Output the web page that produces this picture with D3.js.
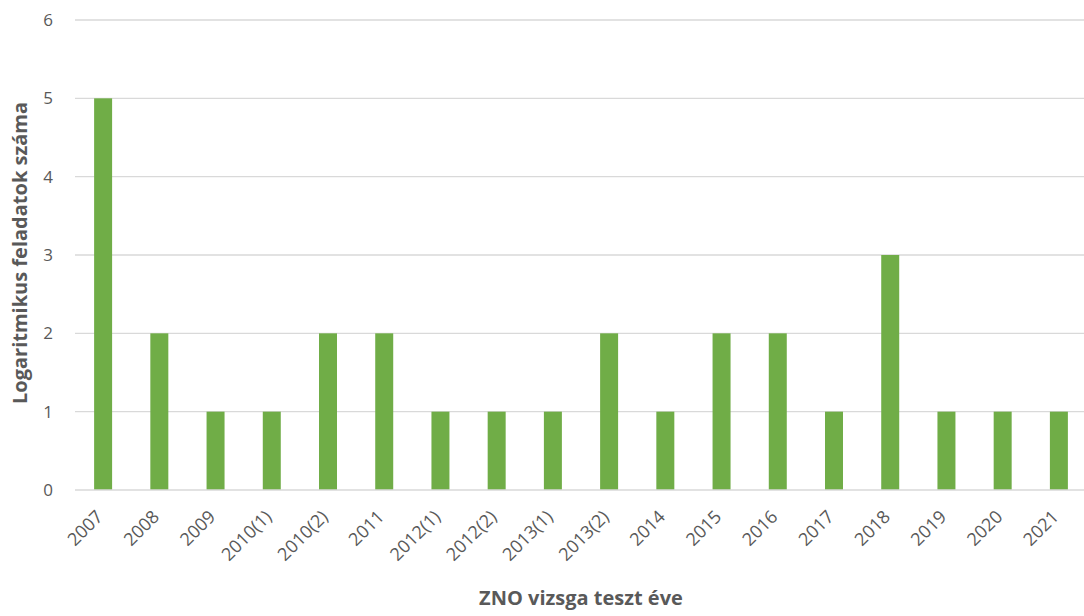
<!DOCTYPE html>
<html>
<head>
<meta charset="utf-8">
<script src="https://cdn.jsdelivr.net/npm/d3@7"></script>
<style>
  html, body { margin: 0; padding: 0; background: #fff; }
  svg { display: block; font-family: "Open Sans", Lato, sans-serif; }
</style>
</head>
<body>
<svg id="chart" width="1084" height="616"></svg>
<script>
// Number of logarithmic problems per ZNO exam year
const years = ["2007", "2008", "2009", "2010(1)", "2010(2)", "2011", "2012(1)", "2012(2)",
  "2013(1)", "2013(2)", "2014", "2015", "2016", "2017", "2018", "2019", "2020", "2021"];
const counts = [5, 2, 1, 1, 2, 2, 1, 1, 1, 2, 1, 2, 2, 1, 3, 1, 1, 1];
const yTicks = [0, 1, 2, 3, 4, 5, 6];

(function () {
  const svg = d3.select("#chart");
  const plotLeft = 75, plotRight = 1087, plotTop = 20, plotBottom = 490;
  const textColor = "#595959";
  const font = "'Open Sans', Lato, sans-serif";

  const x = d3.scaleBand().domain(years).range([plotLeft, plotRight]).paddingInner(0.68).paddingOuter(0.34);
  const y = d3.scaleLinear().domain([0, 6]).range([plotBottom, plotTop]);

  // horizontal gridlines
  svg.append("g")
    .selectAll("line")
    .data(yTicks.filter(d => d > 0))
    .join("line")
    .attr("x1", plotLeft).attr("x2", 1084)
    .attr("y1", d => y(d)).attr("y2", d => y(d))
    .attr("stroke", "#d9d9d9").attr("stroke-width", 1.3);

  // y tick labels
  const yAxis = svg.append("g")
    .attr("transform", `translate(${plotLeft},0)`)
    .call(d3.axisLeft(y).tickValues(yTicks).tickSize(0).tickPadding(22).tickFormat(d3.format("d")));
  yAxis.select(".domain").remove();
  yAxis.selectAll("text").attr("font-size", 17).attr("fill", textColor).attr("font-family", font);

  // bars
  svg.append("g")
    .selectAll("rect")
    .data(years.map((d, i) => ({ year: d, value: counts[i] })))
    .join("rect")
    .attr("x", d => x(d.year))
    .attr("width", x.bandwidth())
    .attr("y", d => y(d.value))
    .attr("height", d => y(0) - y(d.value))
    .attr("fill", "#70ad47");

  // x axis with slanted category labels
  const xAxis = svg.append("g")
    .attr("transform", `translate(0,${plotBottom})`)
    .call(d3.axisBottom(x).tickSize(0).tickPadding(0));
  xAxis.select(".domain").attr("d", `M${plotLeft},0H1084`).attr("stroke", "#d9d9d9").attr("stroke-width", 1.3);
  xAxis.selectAll("text")
    .attr("font-size", 18).attr("fill", textColor).attr("font-family", font)
    .attr("text-anchor", "end")
    .attr("dy", null)
    .attr("y", 0)
    .attr("transform", "translate(1,28) rotate(-45)");

  // axis titles
  svg.append("text")
    .attr("x", 581).attr("y", 605)
    .attr("text-anchor", "middle")
    .attr("font-family", font)
    .attr("font-size", 20).attr("font-weight", "bold").attr("fill", textColor)
    .text("ZNO vizsga teszt éve");

  svg.append("text")
    .attr("transform", "translate(27,253) rotate(-90)")
    .attr("text-anchor", "middle")
    .attr("font-family", font)
    .attr("font-size", 20).attr("font-weight", "bold").attr("fill", textColor)
    .text("Logaritmikus feladatok száma");
})();
</script>
</body>
</html>
